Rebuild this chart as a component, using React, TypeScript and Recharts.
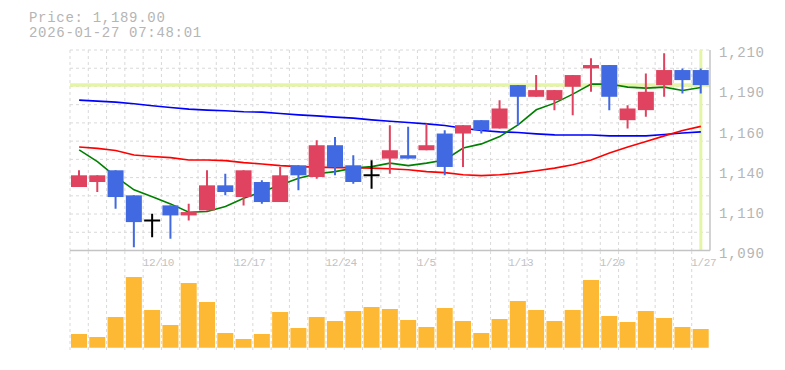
import React from 'react';
import {
  ComposedChart,
  Bar,
  Line,
  XAxis,
  YAxis,
  CartesianGrid,
  ReferenceLine,
} from 'recharts';

// ---------- data ----------
const dates = [
  '12/4', '12/5', '12/8', '12/9', '12/10', '12/11', '12/12', '12/15', '12/16', '12/17',
  '12/18', '12/19', '12/22', '12/23', '12/24', '12/25', '12/26', '12/29', '12/30', '1/5',
  '1/6', '1/7', '1/8', '1/9', '1/13', '1/14', '1/15', '1/16', '1/19', '1/20',
  '1/21', '1/22', '1/23', '1/26', '1/27',
];
const opens = [
  1128, 1131, 1138, 1123, 1108, 1117, 1111, 1114, 1129, 1122,
  1131, 1119, 1141, 1134, 1153, 1141, 1135, 1145, 1147, 1150,
  1160, 1160, 1168, 1163, 1189, 1182, 1180, 1188, 1199, 1201,
  1168, 1174, 1189, 1198, 1198,
];
const highs = [
  1138, 1135, 1138, 1123, 1112, 1117, 1118, 1138, 1136, 1138,
  1132, 1140, 1141, 1156, 1158, 1147, 1144, 1165, 1164, 1166,
  1162, 1165, 1168, 1180, 1189, 1195, 1186, 1195, 1205, 1201,
  1177, 1196, 1208, 1199, 1199,
];
const lows = [
  1128, 1125, 1115, 1092, 1098, 1097, 1108, 1114, 1123, 1117,
  1118, 1119, 1126, 1133, 1135, 1130, 1127, 1136, 1145, 1150,
  1135, 1140, 1160, 1163, 1165, 1182, 1174, 1171, 1185, 1174,
  1163, 1170, 1182, 1184, 1184,
];
const closes = [
  1135, 1135, 1122, 1107, 1108, 1111, 1113, 1129, 1125, 1138,
  1119, 1135, 1135, 1153, 1140, 1131, 1135, 1150, 1145, 1153,
  1140, 1165, 1162, 1175, 1182, 1186, 1186, 1195, 1201, 1182,
  1175, 1185, 1198, 1192, 1189,
];
const maShort = [
  1150.2, 1143.2, 1134.2, 1126.3, 1122.2, 1117.9, 1112.9, 1113.3, 1116.3, 1121.3,
  1125.2, 1129.2, 1133.3, 1135.9, 1137.2, 1139.3, 1140.2, 1142.3, 1140.8, 1142.3,
  1144.2, 1151.3, 1153.8, 1158.2, 1165.2, 1174.2, 1178.2, 1183.6, 1189.6, 1189.6,
  1187.8, 1187.2, 1187.8, 1185.8, 1187.6,
];
const maMid = [
  1151.9, 1151.1, 1149.9, 1147.2, 1146.3, 1145.6, 1144.2, 1144.2, 1143.8, 1142.6,
  1141.8, 1140.8, 1140.2, 1139.9, 1139.6, 1139.6, 1139.3, 1138.9, 1138.3, 1137.2,
  1136.6, 1135.3, 1134.8, 1135.3, 1136.3, 1137.7, 1139.3, 1141.3, 1144.2, 1148.3,
  1151.9, 1155.2, 1158.6, 1161.8, 1164.3,
];
const maLong = [
  1180.0, 1179.4, 1178.8, 1177.8, 1176.6, 1175.6, 1174.6, 1174.0, 1173.6, 1173.0,
  1172.8, 1172.0, 1171.2, 1170.6, 1169.8, 1169.2, 1168.2, 1167.4, 1166.6, 1165.8,
  1164.8, 1163.2, 1161.8, 1161.0, 1160.6, 1159.8, 1159.2, 1159.1, 1159.1, 1158.6,
  1158.6, 1158.6, 1159.4, 1160.3, 1161.0,
];
const volumes = [
  1370, 1070, 3070, 7070, 3770, 2270, 6470, 4570, 1470, 870,
  1370, 3570, 1970, 3070, 2670, 3670, 4070, 3870, 2770, 2070,
  3970, 2670, 1470, 2870, 4670, 3770, 2670, 3770, 6770, 3170,
  2570, 3670, 2970, 2070, 1870,
];
const xTickLabels = ['12/10', '12/17', '12/24', '1/5', '1/13', '1/20', '1/27'];
const yTicks = [1090, 1114, 1138, 1162, 1186, 1210];
const priceDomain = [1090, 1210];
const volumeDomain = [-255, 9675];
const timestamp = '2026-01-27 07:48:01';

// ---------- derived table ----------
const data = dates.map((date, i) => ({
  date,
  open: opens[i],
  high: highs[i],
  low: lows[i],
  close: closes[i],
  maShort: maShort[i],
  maMid: maMid[i],
  maLong: maLong[i],
  volume: volumes[i],
}));
const lastPrice = closes[closes.length - 1];
const lastDate = dates[dates.length - 1];

const fmtComma = (v: number, digits = 0) =>
  v.toLocaleString('en-US', { minimumFractionDigits: digits, maximumFractionDigits: digits });

// ---------- styles ----------
const MONO = '"Liberation Mono", "DejaVu Sans Mono", monospace';
const TEXT_COLOR = '#b5b5b5';
const GRID_COLOR = '#d9d9d9';
const AXIS_COLOR = '#c4c4c4';
const UP = '#e0435f';
const DOWN = '#4169e1';
const HILITE = '#e4f5a6';

const Candle = (props: any) => {
  const { x, y, width, height, payload } = props;
  if (!payload) return null;
  const { open, close, high, low } = payload;
  const top0 = Math.min(y, y + height);
  const h = Math.abs(height);
  const span = high - low;
  const py = (v: number) => (span === 0 ? top0 : top0 + (h * (high - v)) / span);
  const cx = x + width / 2;
  const flat = close === open;
  const color = flat ? '#000000' : close > open ? UP : DOWN;
  const bTop = py(Math.max(open, close));
  const bBot = py(Math.min(open, close));
  return (
    <g>
      <line x1={cx} x2={cx} y1={top0} y2={top0 + h} stroke={color} strokeWidth={2} />
      {flat ? (
        <line x1={x} x2={x + width} y1={bTop} y2={bTop} stroke={color} strokeWidth={2} />
      ) : (
        <rect x={x} y={bTop} width={width} height={Math.max(bBot - bTop, 1)} fill={color} />
      )}
    </g>
  );
};

const XTick = (props: any) => {
  const { x, y, payload } = props;
  const off = payload && typeof payload.offset === 'number' ? payload.offset : 0;
  return (
    <text
      x={x - off - 0.5}
      y={y + 15}
      textAnchor="start"
      fill="#c2c2c2"
      fontFamily={MONO}
      fontSize={11}
      letterSpacing={-0.35}
    >
      {payload.value}
    </text>
  );
};

const YTick = (props: any) => {
  const { x, y, payload } = props;
  return (
    <text
      x={x}
      y={y + 7.3}
      textAnchor="start"
      fill={TEXT_COLOR}
      fontFamily={MONO}
      fontSize={14}
      letterSpacing={0.75}
    >
      {fmtComma(Math.round(payload.value / 10) * 10)}
    </text>
  );
};

const vGen = (args: any) => {
  const o = args.offset;
  const n = dates.length;
  const out: number[] = [];
  for (let k = 0; k < n; k++) out.push(o.left + (k * o.width) / n);
  return out;
};
const hGen = (args: any) => {
  const o = args.offset;
  const out: number[] = [];
  for (let k = 0; k < 11; k++) out.push(o.top + (k * o.height) / 11);
  return out;
};

export default function App() {
  return (
    <div
      style={{
        position: 'absolute',
        left: 0,
        top: 0,
        width: 785,
        height: 370,
        background: '#ffffff',
        overflow: 'hidden',
      }}
    >
      <svg width={785} height={45} style={{ position: 'absolute', left: 0, top: 0 }}>
        <text x={29} y={22.3} fill={TEXT_COLOR} fontFamily={MONO} fontSize={14} letterSpacing={0.7}>
          {`Price: ${fmtComma(lastPrice, 2)}`}
        </text>
        <text x={29} y={37.3} fill={TEXT_COLOR} fontFamily={MONO} fontSize={14} letterSpacing={0.7}>
          {timestamp}
        </text>
      </svg>

      <div style={{ position: 'absolute', left: 0, top: 0 }}>
        <ComposedChart
          width={785}
          height={270}
          data={data}
          margin={{ top: 50, right: 5, bottom: 4.5, left: 70 }}
        >
          <CartesianGrid
            stroke={GRID_COLOR}
            strokeDasharray="3 3"
            verticalCoordinatesGenerator={vGen}
            horizontalCoordinatesGenerator={hGen}
          />
          <XAxis
            dataKey="date"
            ticks={xTickLabels}
            interval={0}
            height={15}
            tickSize={0}
            tickMargin={0}
            tickLine={false}
            axisLine={{ stroke: AXIS_COLOR, strokeWidth: 1.5 }}
            tick={<XTick />}
          />
          <YAxis
            orientation="right"
            width={70}
            domain={priceDomain}
            ticks={yTicks}
            allowDataOverflow
            tickSize={0}
            tickMargin={9}
            tickLine={false}
            axisLine={{ stroke: AXIS_COLOR, strokeWidth: 1.5 }}
            tick={<YTick />}
          />
          <ReferenceLine y={lastPrice} stroke={HILITE} strokeWidth={3.5} zIndex={-10} />
          <ReferenceLine x={lastDate} stroke={HILITE} strokeWidth={3} zIndex={-10} />
          <Line
            dataKey="maLong"
            stroke="#0000ff"
            strokeWidth={1.6}
            dot={false}
            activeDot={false}
            isAnimationActive={false}
          />
          <Line
            dataKey="maMid"
            stroke="#ff0000"
            strokeWidth={1.6}
            dot={false}
            activeDot={false}
            isAnimationActive={false}
          />
          <Line
            dataKey="maShort"
            stroke="#008000"
            strokeWidth={1.6}
            dot={false}
            activeDot={false}
            isAnimationActive={false}
          />
          <Bar
            dataKey={(d: any) => [d.low, d.high]}
            barSize={16}
            shape={<Candle />}
            isAnimationActive={false}
            zIndex={450}
          />
        </ComposedChart>
      </div>

      <div style={{ position: 'absolute', left: 0, top: 0 }}>
        <ComposedChart
          width={785}
          height={370}
          data={data}
          margin={{ top: 251, right: 75, bottom: 19.7, left: 70 }}
        >
          <CartesianGrid
            stroke={GRID_COLOR}
            strokeDasharray="3 3"
            horizontal={false}
            verticalCoordinatesGenerator={vGen}
          />
          <XAxis
            dataKey="date"
            height={0}
            tick={false}
            tickLine={false}
            axisLine={{ stroke: AXIS_COLOR, strokeWidth: 1.5 }}
          />
          <YAxis
            orientation="right"
            width={0}
            domain={volumeDomain}
            allowDataOverflow
            tick={false}
            tickLine={false}
            axisLine={{ stroke: AXIS_COLOR, strokeWidth: 1.5 }}
          />
          <Bar dataKey="volume" barSize={16} fill="#fdb934" isAnimationActive={false} />
        </ComposedChart>
      </div>
    </div>
  );
}
